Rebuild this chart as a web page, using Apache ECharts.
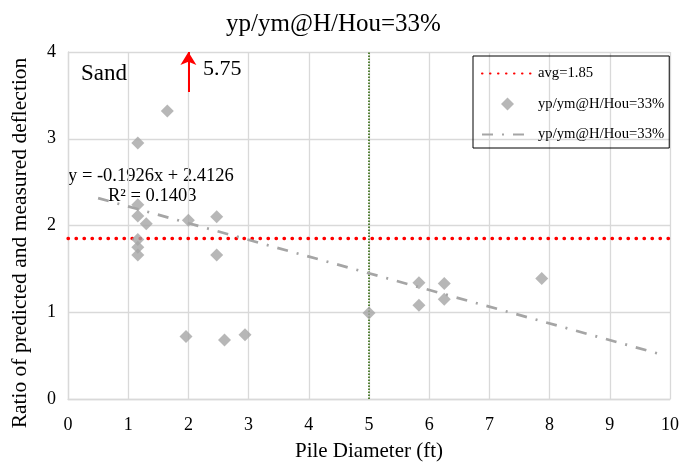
<!DOCTYPE html>
<html>
<head>
<meta charset="utf-8">
<script src="https://cdn.jsdelivr.net/npm/echarts@6/dist/echarts.min.js"></script>
<style>
html,body{margin:0;padding:0;background:#fff;}
#chart{width:693px;height:467px;}
</style>
</head>
<body>
<div id="chart"></div>
<script>
// ---- data ----
const chartTitle = 'yp/ym@H/Hou=33%';
const xAxisTitle = 'Pile Diameter (ft)';
const yAxisTitle = 'Ratio of predicted and measured deflection';
const xTicks = [0,1,2,3,4,5,6,7,8,9,10];
const yTicks = [0,1,2,3,4];
const pileDiameter = [1.65,1.16,1.16,1.16,1.30,2.00,2.47,1.16,1.16,1.16,2.47,1.96,2.60,2.94,5.00,5.83,5.83,6.25,6.25,7.87];
const ratio        = [3.32,2.95,2.24,2.11,2.02,2.06,2.10,1.84,1.75,1.66,1.66,0.72,0.68,0.74,0.99,1.34,1.08,1.33,1.15,1.39];
const avgValue = 1.85;
const trendX = [0.5, 9.85];
const trendY = [2.316, 0.515];
const limitX = 5;
const outlierX = 2;
const outlierValue = 5.75;
const arrowFromY = 3.54;
const equationText = 'y = -0.1926x + 2.4126';
const r2Text = 'R² = 0.1403';
const soilText = 'Sand';

const serif = 'Liberation Serif, Times New Roman, serif';
const scatterData = pileDiameter.map((x,i)=>[x, ratio[i]]);
const avgData = [[xTicks[0], avgValue],[xTicks[xTicks.length-1], avgValue]];
const trendData = trendX.map((x,i)=>[x, trendY[i]]);
const vData = [[limitX, yTicks[0]],[limitX, yTicks[yTicks.length-1]]];

const chart = echarts.init(document.getElementById('chart'));
const seriesName = chartTitle;
const trendName = chartTitle + '\u200B';
const avgName = 'avg=' + avgValue.toFixed(2);
chart.setOption({
  animation:false,
  backgroundColor:'#fff',
  title:{text:chartTitle,left:221,top:7,textStyle:{fontFamily:serif,fontSize:25,fontWeight:'normal',color:'#000'}},
  grid:{left:68,right:23,top:52,bottom:62},
  legend:{
    orient:'vertical',left:473,top:56,
    data:[
      {name:avgName,itemStyle:{opacity:0}},
      {name:seriesName,icon:'path://M0,-1L1,0L0,1L-1,0Z'},
      {name:trendName,itemStyle:{opacity:0}}
    ],
    itemWidth:51,itemHeight:13,itemGap:15.5,
    padding:[10,5,6,8],
    borderColor:'#000',borderWidth:1,
    textStyle:{fontFamily:serif,fontSize:14.7,color:'#000'}
  },
  xAxis:{
    type:'value',min:0,max:10,interval:1,
    name:xAxisTitle,nameLocation:'middle',nameGap:42,
    nameTextStyle:{fontFamily:serif,fontSize:21,color:'#000'},
    axisLine:{show:true,lineStyle:{color:'#D9D9D9',width:1.3}},
    axisTick:{show:false},
    axisLabel:{fontFamily:serif,fontSize:18,color:'#000',margin:17},
    splitLine:{show:true,lineStyle:{color:'#D9D9D9',width:1.3}}
  },
  yAxis:{
    type:'value',min:0,max:4,interval:1,
    axisLine:{show:true,lineStyle:{color:'#D9D9D9',width:1.3}},
    axisTick:{show:false},
    axisLabel:{fontFamily:serif,fontSize:18,color:'#000',margin:12},
    splitLine:{show:true,lineStyle:{color:'#D9D9D9',width:1.3}}
  },
  series:[
    {
      name:'limit',type:'line',data:vData,symbol:'none',silent:true,z:1,
      lineStyle:{color:'#548235',width:2,type:[1.5,1.5]},
      markLine:{
        silent:true,symbol:['none','arrow'],symbolSize:[12,13],
        label:{show:false},
        lineStyle:{color:'#FF0000',width:2,type:'solid'},
        data:[[{coord:[outlierX,arrowFromY]},{coord:[outlierX,yTicks[yTicks.length-1]]}]]
      }
    },
    {
      name:avgName,type:'line',data:avgData,symbol:'none',z:2,
      lineStyle:{color:'#FF0000',width:3.3,type:[0.5,7.5],cap:'round'},
      itemStyle:{color:'#FF0000'}
    },
    {
      name:seriesName,type:'scatter',data:scatterData,symbol:'diamond',symbolSize:13,z:4,
      itemStyle:{color:'#A5A5A5'}
    },
    {
      name:trendName,type:'line',data:trendData,symbol:'none',z:3,
      lineStyle:{color:'#A5A5A5',width:2.7,type:[11,9,2,9]},
      itemStyle:{color:'#A5A5A5'}
    }
  ],
  graphic:[
    {type:'text',x:20,y:243,rotation:Math.PI/2,silent:true,
      style:{text:yAxisTitle,font:'21.5px '+serif,fill:'#000',align:'center',verticalAlign:'middle'}},
    {type:'text',left:81,top:62,style:{text:soilText,font:'23px '+serif,fill:'#000'},silent:true},
    {type:'text',left:203,top:58,style:{text:String(outlierValue),font:'22px '+serif,fill:'#000'},silent:true},
    {type:'text',left:68,top:167,style:{text:equationText,font:'18.5px '+serif,fill:'#000'},silent:true},
    {type:'text',left:108,top:187,style:{text:r2Text,font:'18.5px '+serif,fill:'#000'},silent:true}
  ]
});
</script>
</body>
</html>
